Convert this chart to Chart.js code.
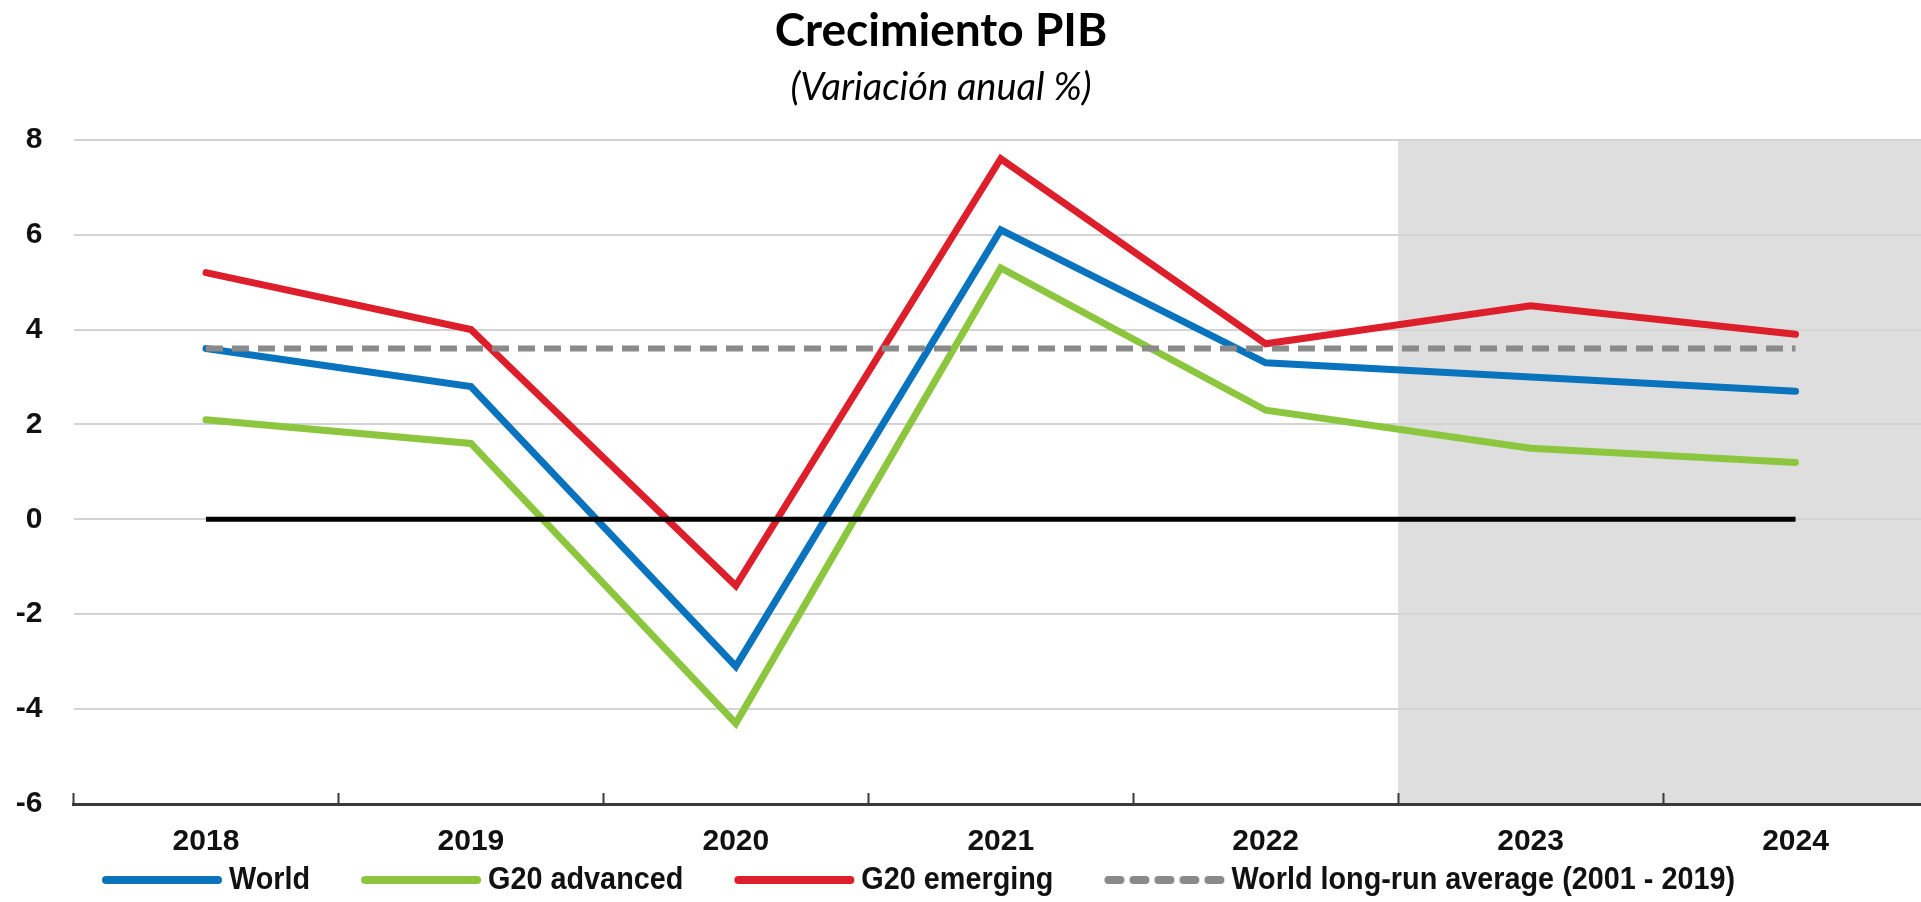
<!DOCTYPE html>
<html lang="es">
<head>
<meta charset="utf-8">
<title>Crecimiento PIB</title>
<script src="https://cdn.jsdelivr.net/npm/chart.js@4.4.1/dist/chart.umd.min.js"></script>
<style>
    html, body { margin: 0; padding: 0; background: #fff; overflow: hidden; }
    #wrap { position: absolute; left: -46px; top: 0; width: 1974px; height: 902px; }
</style>
</head>
<body>
<div id="wrap"><canvas id="pibChart"></canvas></div>
<script>
const years = ['2018', '2019', '2020', '2021', '2022', '2023', '2024'];
const world = [3.6, 2.8, -3.1, 6.1, 3.3, 3.0, 2.7];
const g20Advanced = [2.1, 1.6, -4.3, 5.3, 2.3, 1.5, 1.2];
const g20Emerging = [5.2, 4.0, -1.4, 7.6, 3.7, 4.5, 3.9];
const longRunAverage = [3.6, 3.6, 3.6, 3.6, 3.6, 3.6, 3.6];
const zeroLine = [0, 0, 0, 0, 0, 0, 0];
const yTicks = [8, 6, 4, 2, 0, -2, -4, -6];
const firstProjectionYear = '2023';

const axisFont = "'Liberation Sans', Arial, sans-serif";

// fondo gris de proyecciones + marcas del eje x
const decorPlugin = {
    id: 'decor',
    beforeDraw(chart, args, opts) {
        const {ctx, chartArea, scales: {x}} = chart;
        const idx = years.indexOf(firstProjectionYear);
        const left = (x.getPixelForValue(idx - 1) + x.getPixelForValue(idx)) / 2;
        ctx.save();
        ctx.fillStyle = opts.shade;
        ctx.fillRect(left, chartArea.top, chartArea.right - left, chartArea.bottom - chartArea.top);
        ctx.restore();
    },
    afterDraw(chart, args, opts) {
        const {ctx, chartArea, scales: {x}} = chart;
        const half = (x.getPixelForValue(1) - x.getPixelForValue(0)) / 2;
        ctx.save();
        ctx.strokeStyle = opts.tickColor;
        ctx.lineWidth = 2;
        ctx.beginPath();
        for (let i = 0; i <= years.length; i++) {
            const px = Math.round(x.getPixelForValue(i) - half) + 0.5;
            ctx.moveTo(px, chartArea.bottom);
            ctx.lineTo(px, chartArea.bottom - opts.tickLength);
        }
        ctx.stroke();
        ctx.restore();
    }
};

// leyenda con líneas largas y texto estrecho, como en el original
const lineLegendPlugin = {
    id: 'lineLegend',
    afterDraw(chart, args, opts) {
        const ctx = chart.ctx;
        ctx.save();
        ctx.font = opts.font;
        ctx.textBaseline = 'middle';
        let x = opts.x;
        const y = opts.y;
        chart.data.datasets.forEach(ds => {
            if (!ds.label) return;
            ctx.beginPath();
            ctx.lineWidth = opts.lineWidth;
            ctx.strokeStyle = ds.borderColor;
            ctx.lineCap = 'round';
            ctx.setLineDash(ds.borderDash ? opts.dash : []);
            ctx.moveTo(x, y);
            ctx.lineTo(x + opts.lineLength, y);
            ctx.stroke();
            ctx.setLineDash([]);
            x += opts.lineLength + opts.textGap;
            ctx.save();
            ctx.translate(x, y);
            ctx.scale(opts.textScale, 1);
            ctx.fillStyle = opts.color;
            ctx.fillText(ds.label, 0, 0);
            ctx.restore();
            x += ctx.measureText(ds.label).width * opts.textScale + opts.itemGap;
        });
        ctx.restore();
    }
};

const lineStyle = {pointRadius: 0, pointHoverRadius: 0, tension: 0, fill: false, borderWidth: 7, borderCapStyle: 'round', borderJoinStyle: 'miter'};

const ctx = document.getElementById('pibChart').getContext('2d');
new Chart(ctx, {
    type: 'line',
    data: {
        labels: years,
        datasets: [
            {label: 'World', data: world, borderColor: '#0a73bd', order: 4, ...lineStyle},
            {label: 'G20 advanced', data: g20Advanced, borderColor: '#8cc63f', order: 3, ...lineStyle},
            {label: 'G20 emerging', data: g20Emerging, borderColor: '#dd1f2b', order: 2, ...lineStyle},
            {label: 'World long-run average (2001 - 2019)', data: longRunAverage, borderColor: '#8a8a8a', order: 1,
                ...lineStyle, borderWidth: 6, borderDash: [17, 9], borderCapStyle: 'butt'},
            {label: '', data: zeroLine, borderColor: '#000000', order: 0, ...lineStyle, borderWidth: 5, borderCapStyle: 'butt'}
        ]
    },
    options: {
        responsive: true,
        maintainAspectRatio: false,
        animation: false,
        layout: {padding: {top: 0, right: 0, bottom: 30, left: 0}},
        plugins: {
            legend: {display: false},
            tooltip: {enabled: false},
            title: {
                display: true,
                text: 'Crecimiento PIB',
                color: '#000',
                font: {family: 'Lato', weight: 'bold', size: 46, lineHeight: 1.2},
                padding: {top: 4, bottom: 6}
            },
            subtitle: {
                display: true,
                text: '(Variación anual %)',
                color: '#000',
                font: {family: 'Lato', style: 'italic', size: 38, lineHeight: 1.2},
                padding: {top: 0, bottom: 29}
            },
            decor: {shade: '#dedede', tickColor: '#3a3a3a', tickLength: 11},
            lineLegend: {
                x: 152, y: 880, lineLength: 112, textGap: 11, itemGap: 55, lineWidth: 8,
                dash: [12, 13], color: '#111', textScale: 0.9, font: "bold 32px " + axisFont
            }
        },
        scales: {
            x: {
                offset: true,
                grid: {display: false},
                border: {display: true, color: '#3a3a3a', width: 3},
                ticks: {color: '#111', padding: 12, font: {family: axisFont, weight: 'bold', size: 30}}
            },
            y: {
                min: -6,
                max: 8,
                afterBuildTicks: axis => { axis.ticks = yTicks.map(v => ({value: v})); },
                afterFit: scale => { scale.width = 119.5; },
                grid: {
                    drawTicks: false,
                    lineWidth: 2,
                    color: c => c.tick && c.tick.value === -6 ? 'rgba(0,0,0,0)' : '#d3d3d3'
                },
                border: {display: false},
                ticks: {color: '#111', padding: 31, font: {family: axisFont, weight: 'bold', size: 30}}
            }
        }
    },
    plugins: [decorPlugin, lineLegendPlugin]
});
</script>
</body>
</html>
